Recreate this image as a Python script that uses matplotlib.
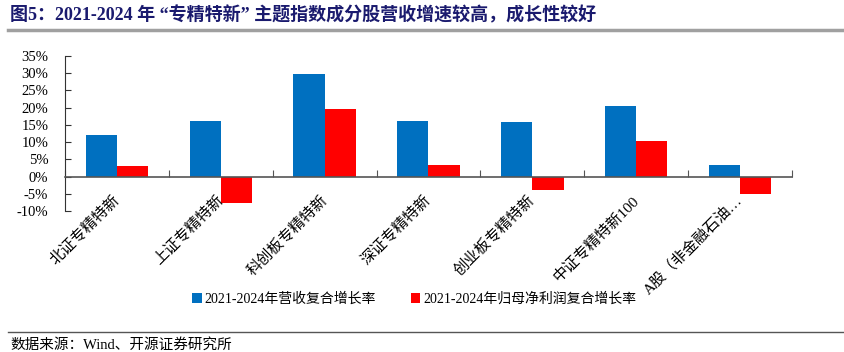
import matplotlib
matplotlib.use("Agg")
import matplotlib.pyplot as plt
from matplotlib.lines import Line2D
import numpy as np

plt.rcParams['font.family'] = ['Liberation Serif', 'Noto Sans CJK SC', 'DejaVu Sans']

categories = ['北证专精特新', '上证专精特新', '科创板专精特新', '深证专精特新',
              '创业板专精特新', '中证专精特新100', 'A股（非金融石油…']
revenue_cagr = [12.2, 16.0, 29.9, 16.0, 15.7, 20.4, 3.5]
profit_cagr = [3.2, -7.6, 19.5, 3.5, -3.8, 10.3, -5.0]
series_names = ['2021-2024年营收复合增长率', '2021-2024年归母净利润复合增长率']
yticks = [-10, -5, 0, 5, 10, 15, 20, 25, 30, 35]

blue = '#0070C0'
red = '#FF0000'

fig = plt.figure(figsize=(8.45, 3.52), dpi=100)
ax = fig.add_axes([65/845, 1-211/352, (792-65)/845, (211-56)/352])

x = np.arange(len(categories))
w = 0.3
ax.bar(x - w/2, revenue_cagr, w, color=blue, label=series_names[0], zorder=2)
ax.bar(x + w/2, profit_cagr, w, color=red, label=series_names[1], zorder=2)

ax.set_xlim(-0.5, len(categories) - 0.5)
ax.set_ylim(-10, 35)
ax.set_yticks(yticks)
ax.set_yticklabels([f'{v}%' for v in yticks], fontsize=10.5)

for s in ['top', 'right']:
    ax.spines[s].set_visible(False)
ax.spines['left'].set_color('#333333')
ax.spines['bottom'].set_position(('data', 0))
ax.spines['bottom'].set_color('#555555')
ax.spines['bottom'].set_linewidth(1.2)
ax.spines['bottom'].set_zorder(3)

ax.tick_params(axis='y', direction='in', length=4, color='#333333', pad=12)
ax.set_xticks(np.arange(len(categories) + 1) - 0.5)
ax.set_xticklabels([])
ax.tick_params(axis='x', direction='in', length=5, color='#555555')

for i, c in enumerate(categories):
    ax.text(i - 0.05, -4.6, c, rotation=45, ha='right', va='top',
            rotation_mode='anchor', fontsize=11, transform=ax.transData)

fig.legend(loc='center', bbox_to_anchor=(0.49, 1 - 299/352), ncol=2, frameon=False,
           fontsize=10, handlelength=0.7, handleheight=0.7, handletextpad=0.2,
           columnspacing=2.5)

fig.text(0.012, 1 - 15/352, '图5：2021-2024 年 “专精特新” 主题指数成分股营收增速较高，成长性较好',
         fontsize=13, fontweight='bold', color='#1a1a6e', va='center')
fig.add_artist(Line2D([8/845, 1], [1 - 30/352] * 2, color='#a0a0a0', lw=2.5))
fig.add_artist(Line2D([8/845, 1], [1 - 332/352] * 2, color='#555555', lw=1.0))
fig.text(0.012, 1 - 345/352, '数据来源：Wind、开源证券研究所', fontsize=10.5, va='center')

fig.savefig('out.png', dpi=100)
